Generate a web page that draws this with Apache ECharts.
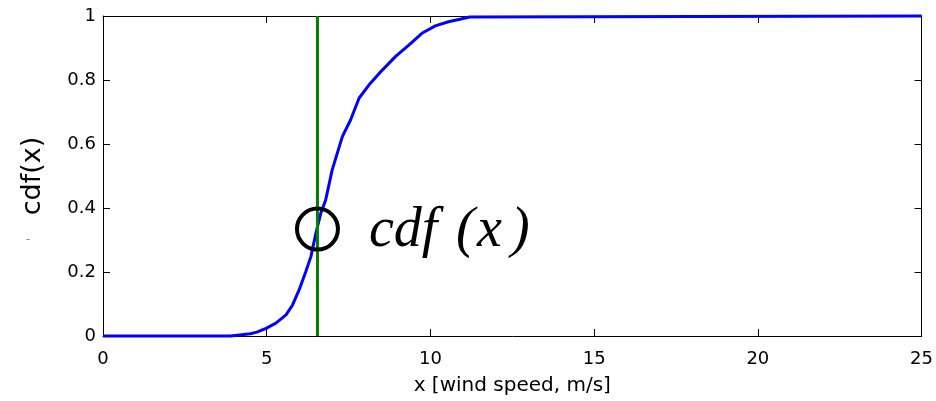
<!DOCTYPE html>
<html>
<head>
<meta charset="utf-8">
<script src="https://cdn.jsdelivr.net/npm/echarts@6/dist/echarts.min.js"></script>
<style>
html,body{margin:0;padding:0;background:#fff;}
#chart{width:936px;height:401px;}
</style>
</head>
<body>
<div id="chart"></div>
<script>
var speeds = [0, 3.9, 3.95, 4.5, 4.7, 4.98, 5.28, 5.59, 5.79, 5.99, 6.19, 6.35, 6.5, 6.65, 6.8, 7.0, 7.31, 7.56, 7.82, 8.12, 8.53, 8.93, 9.34, 9.74, 10.15, 10.55, 10.9, 11.2, 25];
var cdfs = [0, 0, 0.005, 0.007, 0.012, 0.024, 0.04, 0.066, 0.097, 0.144, 0.2, 0.248, 0.32, 0.383, 0.425, 0.519, 0.623, 0.675, 0.743, 0.784, 0.831, 0.873, 0.909, 0.946, 0.969, 0.982, 0.99, 0.997, 1];
var xTicks = [0, 5, 10, 15, 20, 25];
var yTicks = [0, 0.2, 0.4, 0.6, 0.8, 1];
var markerX = 6.55;
var markerY = 0.334;

var curve = [];
for(var i=0;i<speeds.length;i++){
	curve.push([speeds[i],cdfs[i]]);
}

var tickStyle = {show:true,inside:true,length:7,lineStyle:{color:'#000',width:1}};
var lineStyle = {show:true,onZero:false,lineStyle:{color:'#000',width:1}};
var font = '"DejaVu Sans", Arial, sans-serif';
var serif = 'italic 56px "Liberation Serif", "Times New Roman", serif';

var myChart = echarts.init(document.getElementById('chart'));
var option = {
	backgroundColor:'#fff',
	animation:false,
	grid:{left:103,right:11,top:16,bottom:65},
	xAxis:[
		{
			type:'value',min:0,max:25,interval:5,position:'bottom',
			axisLine:lineStyle,axisTick:tickStyle,splitLine:{show:false},
			axisLabel:{color:'#000',fontSize:18,fontFamily:font,margin:14,
				formatter:function(v){return xTicks.indexOf(v)>=0?String(v):'';}},
			name:'x [wind speed, m/s]',nameLocation:'middle',nameGap:40,
			nameTextStyle:{color:'#000',fontSize:20,fontFamily:font}
		},
		{
			type:'value',min:0,max:25,interval:5,position:'top',
			axisLine:lineStyle,axisTick:tickStyle,splitLine:{show:false},axisLabel:{show:false}
		}
	],
	yAxis:[
		{
			type:'value',min:0,max:1,interval:0.2,position:'left',
			axisLine:lineStyle,axisTick:tickStyle,splitLine:{show:false},
			axisLabel:{color:'#000',fontSize:18,fontFamily:font,margin:7,
				formatter:function(v){return yTicks.indexOf(Math.round(v*10)/10)>=0?String(Math.round(v*10)/10):'';}},
			name:'cdf(x)',nameLocation:'middle',nameGap:57,
			nameTextStyle:{color:'#000',fontSize:27,fontFamily:font}
		},
		{
			type:'value',min:0,max:1,interval:0.2,position:'right',
			axisLine:lineStyle,axisTick:tickStyle,splitLine:{show:false},axisLabel:{show:false}
		}
	],
	series:[
		{
			type:'line',data:curve,showSymbol:false,clip:false,
			lineStyle:{color:'#0000ff',width:3},z:3
		},
		{
			type:'line',data:[[markerX,0],[markerX,1]],showSymbol:false,clip:false,
			lineStyle:{color:'#007f00',width:3},z:4
		},
		{
			type:'scatter',data:[[markerX,markerY]],symbol:'circle',symbolSize:41,
			itemStyle:{color:'rgba(0,0,0,0)',borderColor:'#000',borderWidth:4,opacity:1},z:5
		}
	],
	graphic:[
		{type:'text',left:369,top:203,z:10,style:{text:'cdf',fill:'#000',font:serif}},
		{type:'text',left:456,top:203,z:10,style:{text:'(',fill:'#000',font:serif}},
		{type:'text',left:477,top:203,z:10,style:{text:'x',fill:'#000',font:serif}},
		{type:'text',left:511,top:203,z:10,style:{text:')',fill:'#000',font:serif}},
		{type:'text',left:26,top:234,z:10,style:{text:'-',fill:'#888',font:'12px "DejaVu Sans", sans-serif'}}
	]
};
myChart.setOption(option);
</script>
</body>
</html>
